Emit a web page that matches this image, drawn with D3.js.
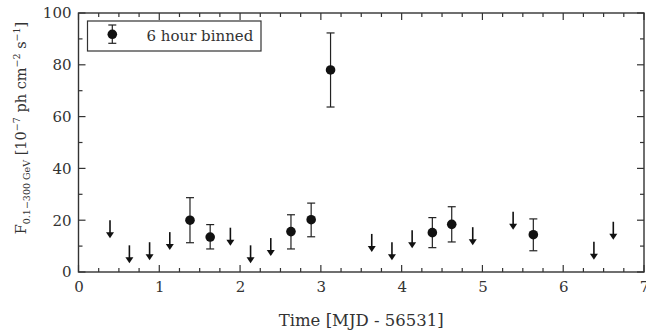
<!DOCTYPE html>
<html>
<head>
<meta charset="utf-8">
<script src="https://cdn.jsdelivr.net/npm/d3@7"></script>
<style>
  body { margin: 0; background: #fff; }
  svg text { font-family: "DejaVu Serif", serif; fill: #333; }
</style>
</head>
<body>
<div id="chart"></div>
<script>
// detections (6 hour bins): time, flux, error low, error high
var detT   = [1.38, 1.63, 2.63, 2.88, 3.12, 4.38, 4.62, 5.63]
var detF   = [20.0, 13.5, 15.6, 20.2, 78.0, 15.2, 18.4, 14.4]
var detLo  = [11.3, 8.9, 8.9, 13.6, 63.7, 9.4, 11.6, 8.2]
var detHi  = [28.7, 18.3, 22.1, 26.6, 92.3, 21.0, 25.2, 20.5]

// upper limits
var ulT = [0.39, 0.63, 0.88, 1.13, 1.88, 2.13, 2.38, 3.63, 3.88, 4.13, 4.88, 5.38, 6.38, 6.62]
var ulF = [20.0, 10.3, 11.5, 15.4, 17.1, 10.3, 13.1, 14.7, 11.5, 16.1, 17.3, 23.3, 11.7, 19.4]

var xTicks = [0, 1, 2, 3, 4, 5, 6, 7]
var yTicks = [0, 20, 40, 60, 80, 100]

var W = 646, H = 333
var m = {left: 78.5, right: 2, top: 13, bottom: 61}
var serif = "'DejaVu Serif', serif"

var svg = d3.select("#chart").append("svg")
            .attr("width", W)
            .attr("height", H)

var x = d3.scaleLinear().domain([0, 7]).range([m.left, W - m.right])
var y = d3.scaleLinear().domain([0, 100]).range([H - m.bottom, m.top])

var axisColor = "#333"

// ticks, pointing inward, on all four sides
function drawTicks() {
  var minorX = d3.range(0, 7.001, 0.25)
  var minorY = d3.range(0, 100.1, 10)
  var g = svg.append("g").attr("stroke", axisColor).attr("stroke-width", 1.2)
  minorX.forEach(v => {
    var len = Math.abs(v - Math.round(v)) < 1e-6 ? 7 : 4
    g.append("line").attr("x1", x(v)).attr("x2", x(v)).attr("y1", y(0)).attr("y2", y(0) - len)
    g.append("line").attr("x1", x(v)).attr("x2", x(v)).attr("y1", y(100)).attr("y2", y(100) + len)
  })
  minorY.forEach(v => {
    var len = v % 20 == 0 ? 7 : 4
    g.append("line").attr("x1", x(0)).attr("x2", x(0) + len).attr("y1", y(v)).attr("y2", y(v))
    g.append("line").attr("x1", x(7)).attr("x2", x(7) - len).attr("y1", y(v)).attr("y2", y(v))
  })
}

svg.append("rect")
   .attr("x", x(0)).attr("y", y(100))
   .attr("width", x(7) - x(0)).attr("height", y(0) - y(100))
   .attr("fill", "none").attr("stroke", axisColor).attr("stroke-width", 1.4)

drawTicks()

// tick labels via d3 axes (lines hidden, we drew our own)
var xAxis = svg.append("g")
   .attr("transform", "translate(0," + y(0) + ")")
   .call(d3.axisBottom(x).tickValues(xTicks).tickSize(0).tickPadding(9).tickFormat(d3.format("d")))
xAxis.attr("font-family", serif).attr("font-size", 15)
xAxis.select(".domain").remove()
xAxis.selectAll("text").attr("fill", "#444")

var yAxis = svg.append("g")
   .attr("transform", "translate(" + x(0) + ",0)")
   .call(d3.axisLeft(y).tickValues(yTicks).tickSize(0).tickPadding(7).tickFormat(d3.format("d")))
yAxis.attr("font-family", serif).attr("font-size", 15)
yAxis.select(".domain").remove()
yAxis.selectAll("text").attr("fill", "#444")

// axis titles
svg.append("text")
   .attr("x", (x(0) + x(7)) / 2)
   .attr("y", 326)
   .attr("text-anchor", "middle")
   .style("font-size", "16.5px")
   .text("Time [MJD - 56531]")

var yl = svg.append("text")
   .attr("transform", "translate(26,128) rotate(-90)")
   .attr("text-anchor", "middle")
   .style("font-size", "14.5px")
yl.append("tspan").text("F")
yl.append("tspan").attr("dy", 4).style("font-size", "9.5px").text("0.1\u2212300 GeV")
yl.append("tspan").attr("dy", -4).text(" [10")
yl.append("tspan").attr("dy", -6).style("font-size", "9.5px").text("\u22127")
yl.append("tspan").attr("dy", 6).text(" ph cm")
yl.append("tspan").attr("dy", -6).style("font-size", "9.5px").text("\u22122")
yl.append("tspan").attr("dy", 6).text(" s")
yl.append("tspan").attr("dy", -6).style("font-size", "9.5px").text("\u22121")
yl.append("tspan").attr("dy", 6).text("]")

// error bars + points
var det = detT.map((t, i) => ({t: t, f: detF[i], lo: detLo[i], hi: detHi[i]}))
var cap = 4
var eb = svg.append("g").attr("stroke", "#222").attr("stroke-width", 1.2)
det.forEach(d => {
  eb.append("line").attr("x1", x(d.t)).attr("x2", x(d.t)).attr("y1", y(d.lo)).attr("y2", y(d.hi))
  eb.append("line").attr("x1", x(d.t) - cap).attr("x2", x(d.t) + cap).attr("y1", y(d.lo)).attr("y2", y(d.lo))
  eb.append("line").attr("x1", x(d.t) - cap).attr("x2", x(d.t) + cap).attr("y1", y(d.hi)).attr("y2", y(d.hi))
})
svg.append("g").selectAll("circle")
   .data(det)
   .enter().append("circle")
   .attr("cx", d => x(d.t))
   .attr("cy", d => y(d.f))
   .attr("r", 4.8)
   .attr("fill", "#111")

// upper limit arrows
var ul = ulT.map((t, i) => ({t: t, f: ulF[i]}))
var arrowLen = 18, headH = 6, headW = 4
var ag = svg.append("g")
ul.forEach(d => {
  var cx = x(d.t), top = y(d.f), tip = top + arrowLen
  ag.append("line").attr("x1", cx).attr("x2", cx).attr("y1", top).attr("y2", tip - headH + 1)
    .attr("stroke", "#111").attr("stroke-width", 1.6)
  ag.append("path")
    .attr("d", "M" + (cx - headW) + "," + (tip - headH) + "L" + (cx + headW) + "," + (tip - headH) + "L" + cx + "," + tip + "Z")
    .attr("fill", "#111")
})

// legend
var lg = svg.append("g")
lg.append("rect").attr("x", 87.5).attr("y", 21).attr("width", 173.5).attr("height", 30)
  .attr("fill", "#fff").attr("stroke", axisColor).attr("stroke-width", 1.2)
var lx = 112.3, ly = 34.3
lg.append("line").attr("x1", lx).attr("x2", lx).attr("y1", 25).attr("y2", 43.3).attr("stroke", "#222").attr("stroke-width", 1.2)
lg.append("line").attr("x1", lx - cap).attr("x2", lx + cap).attr("y1", 25).attr("y2", 25).attr("stroke", "#222").attr("stroke-width", 1.2)
lg.append("line").attr("x1", lx - cap).attr("x2", lx + cap).attr("y1", 43.3).attr("y2", 43.3).attr("stroke", "#222").attr("stroke-width", 1.2)
lg.append("circle").attr("cx", lx).attr("cy", ly).attr("r", 4.8).attr("fill", "#111")
lg.append("text").attr("x", 146.5).attr("y", 40.5).style("font-size", "15px").text("6 hour binned")
</script>
</body>
</html>
